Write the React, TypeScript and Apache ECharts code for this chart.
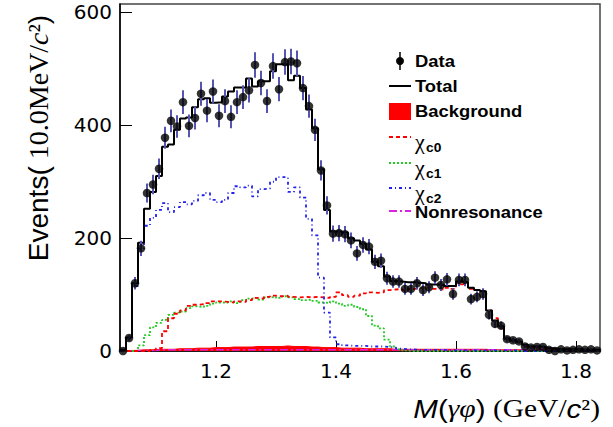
import React, { useEffect, useRef } from "react";
import * as echarts from "echarts";

// 10 MeV bins from 1.04 to 1.84 GeV/c^2
const BIN_LOW = 1.04;
const BIN_WIDTH = 0.01;

const dataCounts = [
  0, 23, 120, 182, 280, 295, 323, 378, 408, 398,
  441, 399, 413, 456, 426, 460, 417, 443, 415, 441,
  450, 462, 507, 475, 443, 505, 464, 512, 513, 510,
  466, 434, 392, 320, 258, 208, 209, 207, 196, 173,
  188, 185, 158, 160, 129, 123, 123, 110, 110, 120,
  108, 113, 130, 117, 127, 101, 126, 126, 92, 96,
  101, 64, 48, 45, 21, 19, 17, 8, 6, 7,
  7, 2, 0, 3, 1, 2, 3, 2, 3, 1,
];

const dataErrors = [
  0, 4.8, 11, 13.5, 16.7, 17.2, 18, 19.4, 20.2, 20,
  21, 20, 20.3, 21.4, 20.6, 21.4, 20.4, 21, 20.4, 21,
  21.2, 21.5, 22.5, 21.8, 21, 22.5, 21.5, 22.6, 22.6, 22.6,
  21.6, 20.8, 19.8, 17.9, 16.1, 14.4, 14.5, 14.4, 14, 13.2,
  13.7, 13.6, 12.6, 12.6, 11.4, 11.1, 11.1, 10.5, 10.5, 11,
  10.4, 10.6, 11.4, 10.8, 11.3, 10, 11.2, 11.2, 9.6, 9.8,
  10, 8, 6.9, 6.7, 4.6, 4.4, 4.1, 2.8, 2.4, 2.6,
  2.6, 1.4, 0, 1.7, 1, 1.4, 1.7, 1.4, 1.7, 1,
];

const totalFit = [
  2, 24, 120, 192, 252, 282, 310, 362, 366, 392,
  412, 414, 432, 446, 448, 440, 441, 451, 460, 467,
  467, 483, 469, 478, 478, 496, 508, 508, 480, 488,
  466, 428, 395, 322, 250, 212, 212, 210, 200, 196,
  190, 180, 158, 150, 132, 124, 123, 122, 122, 121,
  120, 118, 118, 117, 115, 115, 123, 122, 112, 108,
  106, 72, 54, 44, 22, 19, 17, 11, 8, 8,
  7, 5, 4, 3, 3, 3, 3, 2, 2, 2,
];

const chiC0 = [
  0, 0, 0, 0, 0, 2, 5, 35, 58, 66,
  72, 80, 82, 83, 85, 88, 88, 87, 86, 88,
  87, 90, 94, 93, 96, 98, 97, 98, 96, 95,
  96, 95, 96, 95, 94, 96, 104, 99, 96, 98,
  102, 104, 103, 104, 108, 109, 110, 108, 110, 111,
  112, 113, 110, 109, 112, 110, 118, 119, 110, 108,
  106, 72, 58, 40, 22, 18, 15, 8, 6, 5,
  4, 3, 2, 2, 1, 1, 1, 1, 1, 1,
];

const chiC1 = [
  0, 0, 0, 10, 28, 42, 50, 55, 64, 68,
  70, 76, 79, 78, 80, 84, 86, 86, 88, 85,
  90, 93, 94, 91, 95, 96, 94, 97, 95, 92,
  90, 91, 89, 86, 85, 88, 84, 80, 82, 78,
  74, 62, 45, 40, 20, 8, 3, 1, 0, 0,
  0, 0, 0, 0, 0, 0, 0, 0, 0, 0,
  0, 0, 0, 0, 0, 0, 0, 0, 0, 0,
  0, 0, 0, 0, 0, 0, 0, 0, 0, 0,
];

const chiC2 = [
  0, 22, 115, 182, 222, 236, 250, 262, 246, 255,
  264, 260, 266, 276, 280, 268, 264, 268, 280, 292,
  290, 293, 274, 287, 288, 300, 308, 308, 282, 290,
  272, 234, 205, 130, 68, 24, 12, 10, 9, 9,
  9, 8, 8, 8, 7, 6, 4, 3, 3, 2,
  2, 2, 2, 2, 1, 1, 1, 1, 1, 1,
  1, 1, 1, 1, 1, 1, 0, 0, 0, 0,
  0, 0, 0, 0, 0, 0, 0, 0, 0, 0,
];

const background = [
  0, 1, 1, 2, 2, 2, 3, 3, 3, 4,
  4, 4, 5, 5, 5, 6, 6, 6, 7, 7,
  7, 7, 8, 8, 8, 8, 8, 9, 8, 8,
  8, 7, 7, 6, 6, 6, 5, 5, 5, 5,
  4, 4, 4, 4, 4, 3, 3, 3, 3, 3,
  3, 3, 3, 3, 3, 3, 3, 3, 3, 3,
  3, 2, 2, 2, 2, 2, 2, 1, 1, 1,
  1, 1, 1, 1, 1, 1, 1, 1, 1, 1,
];

const nonResonance = [
  0, 0, 1, 1, 1, 1, 2, 2, 2, 2,
  2, 2, 2, 2, 2, 2, 2, 2, 2, 2,
  2, 2, 2, 2, 2, 2, 2, 2, 2, 2,
  2, 2, 2, 2, 2, 2, 2, 2, 2, 2,
  2, 2, 2, 2, 2, 2, 2, 2, 2, 2,
  2, 2, 2, 2, 2, 2, 2, 2, 2, 2,
  2, 2, 2, 2, 2, 2, 2, 2, 2, 2,
  2, 2, 2, 2, 2, 2, 2, 2, 2, 2,
];

const xTickValues = [1.2, 1.4, 1.6, 1.8];
const yTickValues = [0, 200, 400, 600];

const X_MIN = 1.04;
const X_MAX = 1.84;
const Y_MAX = 615;

const edge = (i: number) => Math.round((BIN_LOW + i * BIN_WIDTH) * 1000) / 1000;
const center = (i: number) => Math.round((BIN_LOW + (i + 0.5) * BIN_WIDTH) * 10000) / 10000;

// histogram outline: one point per lower bin edge, plus the last upper edge
function stepPoints(values: number[]) {
  const pts = values.map((v, i) => [edge(i), v]);
  pts.push([edge(values.length), values[values.length - 1]]);
  return pts;
}

function histSeries(name: string, values: number[], color: string, dash: any, width: number, z: number) {
  return {
    name,
    type: "line",
    step: "end",
    data: stepPoints(values),
    symbol: "none",
    showSymbol: false,
    silent: true,
    clip: true,
    z,
    lineStyle: { color, width, type: dash },
    itemStyle: { color },
  };
}

const SANS = "'Liberation Sans', Arial, sans-serif";
const SERIF = "'Liberation Serif', 'Times New Roman', serif";
const LEG_X = 389;
const LEG_TX = 415;

function legendText(text: string, y: number) {
  return {
    type: "text",
    x: LEG_TX,
    y,
    scaleX: 1.15,
    style: {
      text,
      fill: "#000",
      font: `bold 16px ${SANS}`,
      align: "left",
      verticalAlign: "middle",
    },
  };
}

function legendChi(sub: string, y: number) {
  return [
    {
      type: "text",
      x: LEG_TX,
      y: y,
      scaleX: 1.1,
      style: { text: "χ", fill: "#000", font: `20px ${SERIF}`, align: "left", verticalAlign: "middle" },
    },
    {
      type: "text",
      x: LEG_TX + 11,
      y: y + 6,
      scaleX: 1.15,
      style: { text: sub, fill: "#000", font: `bold 12px ${SANS}`, align: "left", verticalAlign: "middle" },
    },
  ];
}

function legendLine(y: number, color: string, dash: any) {
  return {
    type: "line",
    shape: { x1: LEG_X, y1: y, x2: LEG_X + 22, y2: y },
    style: { stroke: color, lineWidth: 2, lineDash: dash },
  };
}

export default function App() {
  const ref = useRef<HTMLDivElement>(null);

  useEffect(() => {
    if (!ref.current) return;
    const chart = echarts.init(ref.current, null, { renderer: "svg" });

    const points = dataCounts.map((v, i) => [center(i), v]);
    const bars = dataCounts.map((v, i) => [center(i), Math.max(0, v - dataErrors[i]), v + dataErrors[i]]);

    const option: any = {
      animation: false,
      backgroundColor: "#fff",
      grid: {
        left: 120,
        right: 13,
        top: 4,
        bottom: 76,
        show: true,
        borderColor: "#444",
        borderWidth: 1.5,
        backgroundColor: "transparent",
      },
      xAxis: {
        type: "value",
        min: X_MIN,
        max: X_MAX,
        axisLine: { show: true, onZero: false, lineStyle: { color: "#000", width: 1.5 } },
        axisTick: {
          show: true,
          inside: true,
          length: 10,
          customValues: xTickValues,
          lineStyle: { color: "#000", width: 1 },
        },
        axisLabel: {
          customValues: xTickValues,
          color: "#000",
          fontFamily: "'DejaVu Sans', sans-serif",
          fontSize: 20,
          margin: 10,
          formatter: (v: number) => v.toFixed(1),
        },
        splitLine: { show: false },
      },
      yAxis: {
        type: "value",
        min: 0,
        max: Y_MAX,
        axisLine: { show: true, onZero: false, lineStyle: { color: "#000", width: 1.5 } },
        axisTick: {
          show: true,
          inside: true,
          length: 12,
          customValues: yTickValues,
          lineStyle: { color: "#000", width: 1 },
        },
        axisLabel: {
          customValues: yTickValues,
          color: "#000",
          fontFamily: "'DejaVu Sans', sans-serif",
          fontSize: 20,
          margin: 8,
        },
        splitLine: { show: false },
      },
      series: [
        {
          name: "Background",
          type: "line",
          step: "end",
          data: stepPoints(background),
          symbol: "none",
          showSymbol: false,
          silent: true,
          z: 2,
          lineStyle: { color: "#ff0000", width: 1 },
          areaStyle: { color: "#ff0000", opacity: 1 },
        },
        histSeries("Nonresonance", nonResonance, "#dd22dd", [8, 3, 2, 3], 1.5, 3),
        histSeries("chi_c1", chiC1, "#22cc22", [2, 2], 1.8, 3),
        histSeries("chi_c0", chiC0, "#ff0000", [4, 3], 1.8, 3),
        histSeries("chi_c2", chiC2, "#2222ee", [3, 3, 1, 3], 1.8, 3),
        histSeries("Total", totalFit, "#000000", "solid", 2, 4),
        {
          name: "Data errors",
          type: "custom",
          data: bars,
          encode: { x: 0, y: [1, 2] },
          z: 5,
          silent: true,
          renderItem: (_params: any, api: any) => {
            const x = api.value(0);
            const p1 = api.coord([x, api.value(1)]);
            const p2 = api.coord([x, api.value(2)]);
            return {
              type: "line",
              shape: { x1: p1[0], y1: p1[1], x2: p2[0], y2: p2[1] },
              style: { stroke: "#5656b0", lineWidth: 2 },
            };
          },
        },
        {
          name: "Data",
          type: "scatter",
          data: points,
          symbol: "circle",
          symbolSize: 8.5,
          z: 6,
          silent: true,
          itemStyle: { color: "#000" },
        },
      ],
      graphic: [
        // y axis title
        {
          type: "text",
          x: 38,
          y: 138,
          rotation: Math.PI / 2,
          style: {
            text: "{s|Events(}{r| 10.0MeV/}{i|c}{r|²}{s|)}",
            fill: "#000",
            align: "center",
            verticalAlign: "middle",
            rich: {
              s: { fontFamily: SANS, fontSize: 28, fill: "#000" },
              r: { fontFamily: SERIF, fontSize: 28, fill: "#000" },
              i: { fontFamily: SERIF, fontSize: 28, fontStyle: "italic", fill: "#000" },
            },
          },
        },
        // x axis title
        {
          type: "text",
          x: 600,
          y: 409,
          scaleX: 1.18,
          style: {
            text: "{mi|M}{s|(}{gi|γφ}{s|)}{r| (GeV/}{ci|c}{r|²)}",
            fill: "#000",
            align: "right",
            verticalAlign: "middle",
            rich: {
              mi: { fontFamily: SANS, fontSize: 25, fontStyle: "italic", fill: "#000" },
              s: { fontFamily: SANS, fontSize: 25, fill: "#000" },
              gi: { fontFamily: SERIF, fontSize: 25, fontStyle: "italic", fill: "#000" },
              r: { fontFamily: SERIF, fontSize: 25, fill: "#000" },
              ci: { fontFamily: SANS, fontSize: 25, fontStyle: "italic", fill: "#000" },
            },
          },
        },
        // legend
        {
          type: "line",
          shape: { x1: 400, y1: 52, x2: 400, y2: 70 },
          style: { stroke: "#000", lineWidth: 1.5 },
        },
        { type: "circle", shape: { cx: 400, cy: 61, r: 4 }, style: { fill: "#000" } },
        legendText("Data", 61),
        legendLine(86, "#000", null),
        legendText("Total", 86),
        { type: "rect", shape: { x: LEG_X, y: 103, width: 22, height: 17 }, style: { fill: "#ff0000" } },
        legendText("Background", 111),
        legendLine(137, "#ff0000", [4, 3]),
        ...legendChi("c0", 142),
        legendLine(163, "#22cc22", [2, 2]),
        ...legendChi("c1", 168),
        legendLine(188, "#2222ee", [3, 3, 1, 3]),
        ...legendChi("c2", 193),
        legendLine(211, "#dd22dd", [8, 3, 2, 3]),
        legendText("Nonresonance", 212),
      ],
    };

    chart.setOption(option);
    return () => chart.dispose();
  }, []);

  return <div ref={ref} style={{ position: "absolute", left: 0, top: 0, width: 613, height: 427 }} />;
}
